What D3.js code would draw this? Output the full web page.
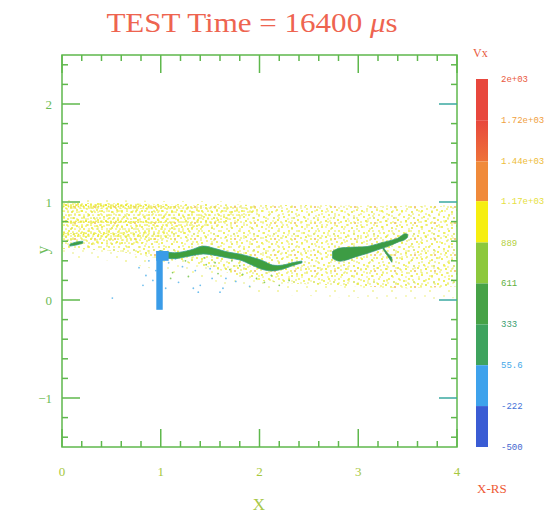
<!DOCTYPE html>
<html><head><meta charset="utf-8">
<script src="https://cdn.jsdelivr.net/npm/d3@7"></script>
<style>body{margin:0;background:#fff}svg{display:block}</style>
</head><body><svg id="c" width="555" height="523"></svg>
<script>
// ---------- data ----------
const xTicks = [0, 1, 2, 3, 4];
const yTicks = [-1, 0, 1, 2];
const cbTickValues = [2000, 1720, 1440, 1170, 889, 611, 333, 55.6, -222, -500];
const cbTickLabels = ["2e+03","1.72e+03","1.44e+03","1.17e+03","889","611","333","55.6","-222","-500"];
const cbBandColors = ["#e8473d","#ec6038","#f08a3a","#f6ee10","#8cc83c","#46a246","#3ea35e","#3ea2ec","#3a5cd4"];
const cbLabelColors = ["#ea5a40","#f0a040","#eebc38","#e6e040","#b4d040","#62b040","#40a070","#44a8e8","#4472d8","#4466d0"];

// yellow particle band (x, top y, bottom y)
const bandX   = [0.00, 0.50, 1.00, 1.50, 2.00, 2.50, 3.00, 3.50, 4.00];
const bandTop = [0.99, 0.99, 0.98, 0.98, 0.97, 0.97, 0.96, 0.96, 0.96];
const bandBot = [0.52, 0.50, 0.42, 0.33, 0.20, 0.16, 0.14, 0.12, 0.14];
// sparse fringe around the band
const fringeTop = [1.02, 1.02, 1.01, 1.01, 1.00, 1.00, 0.99, 0.99, 0.99];
const fringeBot = [0.44, 0.40, 0.30, 0.20, 0.08, 0.04, 0.02, 0.00, 0.02];
// dense core on the left
const coreX   = [0.00, 0.40, 0.80, 1.20, 1.60, 2.00];
const coreTop = [0.99, 0.99, 0.98, 0.97, 0.96, 0.95];
const coreBot = [0.56, 0.56, 0.58, 0.66, 0.78, 0.90];
// bright streak rows: x positions, centre y, half thickness
const streakX = [0.00, 0.40, 0.80, 1.20, 1.60];
const streakA = [0.955, 0.955, 0.950, 0.945, 0.940];
const streakAH= [0.022, 0.022, 0.018, 0.010, 0.000];
const streakB = [0.800, 0.800, 0.795, 0.790, 0.785];
const streakBH= [0.012, 0.012, 0.008, 0.000, 0.000];
const streakC = [0.670, 0.670, 0.665, 0.660, 0.655];
const streakCH= [0.012, 0.012, 0.006, 0.000, 0.000];

// left filament (green), centre line + thickness
const fil1X = [0.99, 1.14, 1.30, 1.43, 1.55, 1.68, 1.80, 1.92, 2.03, 2.13, 2.24, 2.34, 2.43];
const fil1Y = [0.469, 0.452, 0.480, 0.510, 0.490, 0.459, 0.439, 0.398, 0.357, 0.327, 0.337, 0.367, 0.388];
const fil1W = [0.07, 0.06, 0.06, 0.08, 0.07, 0.06, 0.06, 0.08, 0.09, 0.06, 0.04, 0.03, 0.02];
// vertical blue stem
const stemX = [0.955, 1.02];
const stemY = [-0.10, 0.50];
const cornerX = [0.955, 1.08];
const cornerY = [0.40, 0.50];
// right filament
const fil2X = [2.74, 2.80, 2.87, 2.97, 3.09, 3.22, 3.32, 3.40, 3.47, 3.50];
const fil2Y = [0.460, 0.462, 0.470, 0.490, 0.510, 0.550, 0.580, 0.610, 0.645, 0.655];
const fil2W = [0.07, 0.13, 0.13, 0.10, 0.07, 0.06, 0.05, 0.04, 0.06, 0.03];
const fil3X = [3.25, 3.30, 3.34];
const fil3Y = [0.53, 0.46, 0.41];
const fil3W = [0.02, 0.03, 0.05];
// small streak near left edge
const fil4X = [0.08, 0.14, 0.21];
const fil4Y = [0.560, 0.575, 0.590];
const fil4W = [0.02, 0.03, 0.02];

// scattered particles below the left filament
const dotX = [0.78,0.85,0.92,1.08,1.12,1.18,1.22,1.28,1.35,1.40,1.46,1.52,1.58,1.63,1.70,1.76,1.83,1.90,1.97,2.05,1.15,1.25,1.33,1.44,1.55,1.66,1.72,0.88,1.05,1.38,0.51,2.12,2.20,1.60,0.95,0.82,1.10,1.50,1.80,2.30];
const dotY = [0.33,0.25,0.20,0.38,0.28,0.18,0.34,0.24,0.30,0.15,0.36,0.22,0.27,0.12,0.31,0.19,0.26,0.14,0.22,0.18,0.42,0.40,0.12,0.43,0.38,0.22,0.40,0.40,0.12,0.08,0.02,0.25,0.15,0.08,0.30,0.15,0.22,0.32,0.35,0.20];
const dotC = ["b","b","b","b","g","b","b","g","b","b","g","b","g","b","g","b","g","b","g","g","b","g","b","g","g","b","g","b","b","b","b","g","g","b","b","b","g","b","g","g"];

// ---------- drawing ----------
const svg = d3.select("#c");
svg.append("rect").attr("width",555).attr("height",523).attr("fill","#fff");
const x = d3.scaleLinear().domain([0,4]).range([62,457]);
const y = d3.scaleLinear().domain([-1.5,2.5]).range([447,55]);
const axisCol = "#5fb84c";
const serif = "'Liberation Serif','DejaVu Serif',serif";

const defs = svg.append("defs");
function pattern(id, w, h, dots) {
  const p = defs.append("pattern").attr("id",id).attr("patternUnits","userSpaceOnUse")
    .attr("width",w).attr("height",h);
  dots.forEach(d => p.append("circle").attr("cx",d[0]).attr("cy",d[1]).attr("r",d[2]).attr("fill",d[3]));
}
pattern("pBand", 20, 16, [
  [2,3,1.0,"#ecec30"],[7,1,.9,"#f0ee60"],[12,4,1.0,"#e4e640"],[17,2,.9,"#eeec34"],[19,7,1.0,"#f2f060"],
  [4,9,.9,"#e8ea30"],[9,7,1.0,"#f0ee44"],[14,10,.9,"#d4de48"],[18,12,1.0,"#ecec30"],[1,14,.9,"#f2f070"],
  [6,13,1.0,"#e6e834"],[11,15,.9,"#eeec40"],[15,15,.9,"#f0b050"],[8,11,.8,"#eeec50"]]);
pattern("pBand2", 13, 11, [
  [3,2,.8,"#eeee50"],[10,5,.8,"#e6e83c"],[6,9,.8,"#dce454"]]);
pattern("pFringe", 19, 15, [
  [3,2,.8,"#eeee50"],[12,6,.8,"#e6e84a"],[7,11,.8,"#f0ee70"],[16,13,.7,"#dce454"]]);
pattern("pCore", 9, 7, [
  [1,1,.85,"#eaea2c"],[5,2,.85,"#f0ee40"],[8,5,.8,"#e4e636"],[3,5,.85,"#eeec48"]]);
pattern("pStreak", 5, 4, [
  [1,1,.9,"#e6e624"],[3.5,2.5,.9,"#eeec30"]]);

// band areas
const idx = d3.range(bandX.length);
const fringeArea = d3.area().x(i=>x(bandX[i])).y0(i=>y(fringeBot[i])).y1(i=>y(fringeTop[i])).curve(d3.curveMonotoneX);
svg.append("path").attr("d", fringeArea(idx)).attr("fill","url(#pFringe)");
const bandArea = d3.area().x(i=>x(bandX[i])).y0(i=>y(bandBot[i])).y1(i=>y(bandTop[i])).curve(d3.curveMonotoneX);
svg.append("path").attr("d", bandArea(idx)).attr("fill","url(#pBand)");
svg.append("path").attr("d", bandArea(idx)).attr("fill","url(#pBand2)");
const coreArea = d3.area().x(i=>x(coreX[i])).y0(i=>y(coreBot[i])).y1(i=>y(coreTop[i])).curve(d3.curveMonotoneX);
svg.append("path").attr("d", coreArea(d3.range(coreX.length))).attr("fill","url(#pCore)");
[[streakA,streakAH],[streakB,streakBH],[streakC,streakCH]].forEach(([cy,hh])=>{
  const a = d3.area().x(i=>x(streakX[i])).y0(i=>y(cy[i]-hh[i])).y1(i=>y(cy[i]+hh[i])).curve(d3.curveMonotoneX);
  svg.append("path").attr("d", a(d3.range(streakX.length))).attr("fill","url(#pStreak)");
});

// scattered dots
svg.selectAll("circle.sd").data(d3.range(dotX.length)).join("circle").attr("class","sd")
  .attr("cx",i=>x(dotX[i])).attr("cy",i=>y(dotY[i])).attr("r",0.9)
  .attr("fill",i=>dotC[i]==="b"?"#70bfee":"#88cc66");

// filaments
function filament(xs, ys, ws, fill, stroke) {
  const a = d3.area().x(i=>x(xs[i])).y0(i=>y(ys[i]-ws[i]/2)).y1(i=>y(ys[i]+ws[i]/2)).curve(d3.curveCatmullRom);
  svg.append("path").attr("d", a(d3.range(xs.length))).attr("fill",fill)
    .attr("stroke",stroke).attr("stroke-width",0.8);
}
svg.append("rect").attr("x",x(stemX[0])).attr("width",x(stemX[1])-x(stemX[0]))
  .attr("y",y(stemY[1])).attr("height",y(stemY[0])-y(stemY[1])).attr("fill","#3a9ce8");
filament(fil1X, fil1Y, fil1W, "#3f9f3e", "#38a08a");
svg.append("rect").attr("x",x(cornerX[0])).attr("width",x(cornerX[1])-x(cornerX[0]))
  .attr("y",y(cornerY[1])).attr("height",y(cornerY[0])-y(cornerY[1])).attr("fill","#3a9ce8");
filament(fil2X, fil2Y, fil2W, "#3d9c44", "#3a9a70");
filament(fil3X, fil3Y, fil3W, "#3d9c44", "#3a9a70");
filament(fil4X, fil4Y, fil4W, "#3f9f3e", "#38a08a");

// frame + ticks
const g = svg.append("g").attr("stroke",axisCol).attr("stroke-width",1.5).attr("fill","none");
g.append("rect").attr("x",x(0)).attr("y",y(2.5)).attr("width",x(4)-x(0)).attr("height",y(-1.5)-y(2.5));
const minorX = d3.range(0,4.001,0.2), minorY = d3.range(-1.4,2.5,0.2);
minorX.forEach(v=>{
  const major = Math.abs(v-Math.round(v))<1e-6;
  const L = major?18:6;
  g.append("line").attr("x1",x(v)).attr("x2",x(v)).attr("y1",y(-1.5)).attr("y2",y(-1.5)-L);
  g.append("line").attr("x1",x(v)).attr("x2",x(v)).attr("y1",y(2.5)).attr("y2",y(2.5)+L);
});
minorY.forEach(v=>{
  const major = Math.abs(v-Math.round(v))<1e-6;
  const L = major?18:6;
  g.append("line").attr("x1",x(0)).attr("x2",x(0)+L).attr("y1",y(v)).attr("y2",y(v));
  g.append("line").attr("x1",x(4)).attr("x2",x(4)-L).attr("y1",y(v)).attr("y2",y(v))
    .attr("stroke",major?"#3aa8a0":axisCol);
});

// tick labels
svg.selectAll("text.yt").data(yTicks).join("text").attr("class","yt")
  .attr("x",x(0)-10).attr("y",d=>y(d)+4.5).attr("text-anchor","end")
  .attr("font-family",serif).attr("font-size",13).attr("fill","#6cbb56")
  .text(d=>d<0?"\u2212"+Math.abs(d):d);
svg.selectAll("text.xt").data(xTicks).join("text").attr("class","xt")
  .attr("x",d=>x(d)).attr("y",476).attr("text-anchor","middle")
  .attr("font-family",serif).attr("font-size",13).attr("fill","#a6c840").text(d=>d);

// axis titles
svg.append("text").attr("x",259).attr("y",510).attr("text-anchor","middle")
  .attr("font-family",serif).attr("font-size",17).attr("fill","#a8c848").text("X");
svg.append("text").attr("transform","translate(48,250) rotate(-90)").attr("text-anchor","middle")
  .attr("font-family",serif).attr("font-size",17).attr("fill","#6cbb56").text("y");

// title
const t = svg.append("text").attr("transform","translate(252,32) scale(1.15,1)").attr("text-anchor","middle")
  .attr("font-family",serif).attr("font-size",27).attr("fill","#ee6450");
t.append("tspan").text("TEST Time = 16400 ");
t.append("tspan").attr("font-style","italic").text("\u03bc");
t.append("tspan").text("s");

// colour bar
const cb = d3.scaleLinear().domain([-500,2000]).range([447,79]);
const cbGrad = defs.append("linearGradient").attr("id","gRO").attr("x1",0).attr("x2",0).attr("y1",0).attr("y2",1);
cbGrad.append("stop").attr("offset","0%").attr("stop-color","#e8473d");
cbGrad.append("stop").attr("offset","100%").attr("stop-color","#ee7238");
d3.range(cbBandColors.length).forEach(i=>{
  svg.append("rect").attr("x",476).attr("width",12)
    .attr("y",cb(cbTickValues[i])).attr("height",cb(cbTickValues[i+1])-cb(cbTickValues[i]))
    .attr("fill",i===1?"url(#gRO)":cbBandColors[i]);
});
svg.selectAll("text.cb").data(cbTickValues).join("text").attr("class","cb")
  .attr("x",501).attr("y",d=>cb(d)+3).attr("font-family","'Liberation Mono','DejaVu Sans Mono',monospace")
  .attr("font-size",9).attr("fill",(d,i)=>cbLabelColors[i]).text((d,i)=>cbTickLabels[i]);
svg.append("text").attr("x",473).attr("y",57).attr("font-family",serif).attr("font-size",12)
  .attr("fill","#e85a40").text("Vx");
svg.append("text").attr("x",477).attr("y",493).attr("font-family",serif).attr("font-size",13)
  .attr("fill","#ee5a36").text("X-RS");
</script></body></html>
